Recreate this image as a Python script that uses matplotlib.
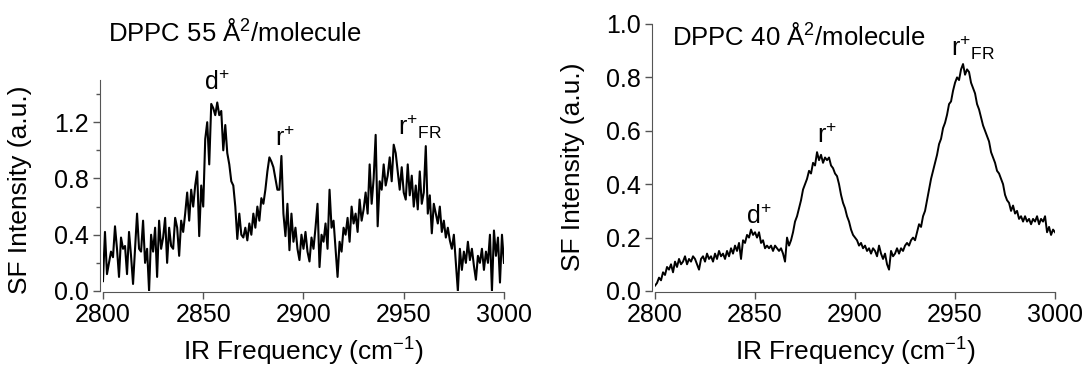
import numpy as np
import matplotlib
matplotlib.use('Agg')
import matplotlib.pyplot as plt
from matplotlib.ticker import MultipleLocator

plt.rcParams['font.family'] = ['Liberation Sans', 'DejaVu Sans']
plt.rcParams['mathtext.default'] = 'regular'

# IR frequency axis (cm-1), one point per wavenumber
freq = np.arange(2800, 3001, 1)

# DPPC 55 A^2/molecule
sf_55 = [
    0.07, 0.42, 0.12, 0.20, 0.28, 0.24, 0.46, 0.30, 0.10, 0.38,
    0.30, 0.32, 0.12, 0.42, 0.25, 0.05, 0.30, 0.55, 0.30, 0.28,
    0.50, 0.20, 0.30, 0.00, 0.40, 0.28, 0.45, 0.10, 0.50, 0.30,
    0.38, 0.52, 0.20, 0.45, 0.32, 0.30, 0.52, 0.45, 0.25, 0.50,
    0.42, 0.55, 0.70, 0.50, 0.72, 0.60, 0.75, 0.85, 0.39, 0.75,
    0.60, 1.08, 1.20, 0.90, 1.33, 1.30, 1.25, 1.34, 1.25, 1.28,
    1.00, 1.18, 0.98, 0.90, 0.78, 0.75, 0.60, 0.37, 0.55, 0.40,
    0.38, 0.45, 0.36, 0.48, 0.40, 0.55, 0.45, 0.60, 0.50, 0.66,
    0.62, 0.72, 0.85, 0.95, 0.92, 0.88, 0.80, 0.72, 0.72, 0.96,
    0.55, 0.39, 0.62, 0.29, 0.55, 0.35, 0.45, 0.30, 0.22, 0.40,
    0.30, 0.42, 0.28, 0.21, 0.38, 0.30, 0.45, 0.62, 0.17, 0.40,
    0.35, 0.48, 0.30, 0.72, 0.45, 0.50, 0.30, 0.10, 0.35, 0.28,
    0.45, 0.40, 0.52, 0.35, 0.60, 0.48, 0.55, 0.42, 0.65, 0.50,
    0.58, 0.70, 0.55, 0.90, 0.62, 0.80, 1.11, 0.46, 0.78, 0.72,
    0.90, 0.75, 0.82, 0.95, 0.78, 1.04, 0.98, 0.85, 0.72, 0.88,
    0.70, 0.65, 0.90, 0.68, 0.82, 0.60, 0.75, 0.58, 0.85, 0.62,
    0.70, 1.03, 0.55, 0.68, 0.41, 0.62, 0.55, 0.48, 0.60, 0.42,
    0.50, 0.38, 0.45, 0.36, 0.30, 0.40, 0.20, 0.00, 0.30, 0.15,
    0.28, 0.20, 0.35, 0.22, 0.30, 0.18, 0.08, 0.25, 0.20, 0.30,
    0.15, 0.28, 0.20, 0.40, 0.00, 0.43, 0.25, 0.38, 0.06, 0.40,
    0.20,
]

# DPPC 40 A^2/molecule
sf_40 = [
    0.02, 0.03, 0.05, 0.04, 0.07, 0.06, 0.09, 0.08, 0.10, 0.07,
    0.11, 0.09, 0.12, 0.10, 0.11, 0.13, 0.10, 0.12, 0.11, 0.13,
    0.12, 0.10, 0.08, 0.12, 0.13, 0.11, 0.14, 0.12, 0.13, 0.11,
    0.14, 0.12, 0.15, 0.13, 0.14, 0.12, 0.15, 0.13, 0.16, 0.14,
    0.17, 0.15, 0.18, 0.12, 0.19, 0.18, 0.21, 0.20, 0.23, 0.21,
    0.22, 0.20, 0.22, 0.18, 0.19, 0.16, 0.17, 0.16, 0.17, 0.15,
    0.17, 0.16, 0.15, 0.16, 0.14, 0.11, 0.20, 0.17, 0.19, 0.22,
    0.26, 0.28, 0.31, 0.34, 0.38, 0.40, 0.42, 0.45, 0.44, 0.48,
    0.47, 0.52, 0.49, 0.51, 0.48, 0.50, 0.49, 0.50, 0.47, 0.46,
    0.44, 0.43, 0.40, 0.36, 0.33, 0.31, 0.28, 0.26, 0.23, 0.21,
    0.20, 0.19, 0.17, 0.18, 0.16, 0.17, 0.15, 0.16, 0.14, 0.16,
    0.15, 0.13, 0.17, 0.14, 0.12, 0.14, 0.10, 0.08, 0.15, 0.13,
    0.14, 0.16, 0.14, 0.16, 0.15, 0.17, 0.18, 0.17, 0.19, 0.20,
    0.19, 0.22, 0.25, 0.24, 0.28, 0.30, 0.34, 0.38, 0.42, 0.45,
    0.48, 0.51, 0.55, 0.57, 0.61, 0.63, 0.66, 0.70, 0.71, 0.75,
    0.78, 0.80, 0.79, 0.83, 0.85, 0.81, 0.83, 0.82, 0.78, 0.76,
    0.74, 0.70, 0.68, 0.65, 0.62, 0.60, 0.58, 0.56, 0.52, 0.50,
    0.48, 0.45, 0.44, 0.42, 0.40, 0.36, 0.34, 0.33, 0.30, 0.32,
    0.29, 0.30, 0.27, 0.28, 0.26, 0.28, 0.26, 0.27, 0.25, 0.27,
    0.26, 0.28, 0.25, 0.27, 0.26, 0.28, 0.22, 0.24, 0.21, 0.23,
    0.22,
]

xticks = [2800, 2850, 2900, 2950, 3000]

fig = plt.figure(figsize=(10.85, 3.69), dpi=100)
ax1 = fig.add_axes([0.0949, 0.2114, 0.3696, 0.5718])
ax2 = fig.add_axes([0.6037, 0.2114, 0.3687, 0.7236])

spine_col = '#555555'
for ax in (ax1, ax2):
    ax.spines['top'].set_visible(False)
    ax.spines['right'].set_visible(False)
    ax.spines['left'].set_color(spine_col)
    ax.spines['bottom'].set_color(spine_col)
    ax.spines['left'].set_position(('outward', 2))
    ax.spines['bottom'].set_position(('outward', 1))
    ax.set_xlim(2800, 3000)
    ax.set_xticks(xticks)
    ax.tick_params(which='both', direction='out', color=spine_col, labelsize=18, width=1)
    ax.tick_params(which='major', length=5, pad=3)
    ax.tick_params(which='minor', length=3)
    ax.set_xlabel('IR Frequency (cm$^{-1}$)', fontsize=19, labelpad=6)
    ax.set_ylabel('SF Intensity (a.u.)', fontsize=19)

# left panel
ax1.plot(freq, sf_55, color='black', lw=1.5)
ax1.set_ylim(0, 1.5)
ax1.yaxis.set_major_locator(MultipleLocator(0.4))
ax1.yaxis.set_minor_locator(MultipleLocator(0.2))
ax1.yaxis.set_label_coords(-0.177, 0.48)
ax1.text(2802.5, 1.84, 'DPPC 55 Å$^{2}$/molecule', fontsize=18.5, va='center', clip_on=False)
ax1.text(2857, 1.48, 'd$^{+}$', fontsize=18, ha='center', va='center', clip_on=False)
ax1.text(2891, 1.08, 'r$^{+}$', fontsize=18, ha='center', va='center')
ax1.text(2958, 1.17, 'r$^{+}{}_{FR}$', fontsize=18, ha='center', va='center')

# right panel
ax2.plot(freq, sf_40, color='black', lw=1.4)
ax2.set_ylim(0, 1.0)
ax2.yaxis.set_major_locator(MultipleLocator(0.2))
ax2.yaxis.set_label_coords(-0.175, 0.465)
ax2.text(2808.5, 0.953, 'DPPC 40 Å$^{2}$/molecule', fontsize=18.5, va='center')
ax2.text(2852, 0.277, 'd$^{+}$', fontsize=18, ha='center', va='center')
ax2.text(2886, 0.58, 'r$^{+}$', fontsize=18, ha='center', va='center')
ax2.text(2959, 0.91, 'r$^{+}{}_{FR}$', fontsize=18, ha='center', va='center')

fig.savefig('out.png', dpi=100)
